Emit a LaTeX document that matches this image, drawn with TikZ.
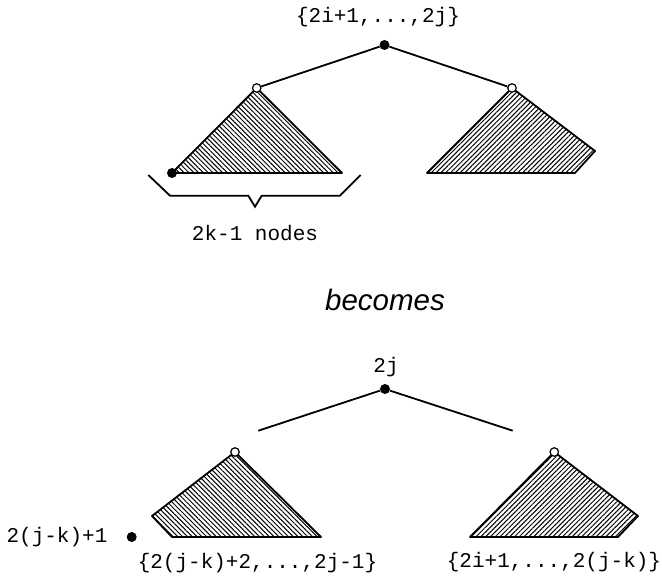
\documentclass[tikz,border=0pt]{standalone}
\usepackage{fontspec}
\setmonofont{Liberation Mono}
\setsansfont{Liberation Sans}
\usetikzlibrary{patterns.meta}

\begin{document}
\begin{tikzpicture}[x=1pt, y=-1pt,
  font=\ttfamily\fontsize{21}{24}\selectfont,
  full/.style={circle, fill=black, inner sep=0pt, minimum size=10pt},
  hollow/.style={circle, draw=black, fill=white, line width=1.2pt,
                 inner sep=0pt, minimum size=8.5pt},
  edge/.style={line width=1.8pt},
  hatchL/.style={draw, line width=1.8pt, line join=round,
                 pattern={Lines[angle=-45, distance=3.4pt, line width=1pt]}},
  hatchR/.style={draw, line width=1.8pt, line join=round,
                 pattern={Lines[angle=45, distance=3.4pt, line width=1pt]}},
]
\useasboundingbox (0,0) rectangle (662,580);

% before
\path[hatchL] (256.7,88) -- (172,173) -- (342,173) -- cycle;
\path[hatchR] (512,88) -- (427,173) -- (575,173) -- (595,151) -- cycle;

\node[full]   (root)  at (384.5,45)  {};
\node[hollow] (left)  at (256.7,88)  {};
\node[hollow] (right) at (512,88)    {};
\node[full]   (leaf)  at (172,173)   {};

\draw[edge] (root) -- (left);
\draw[edge] (root) -- (right);

\node (set) at (378,17) {\{2i+1,...,2j\}};

\draw[edge, line join=miter] (148.3,175) -- (170,195.7) -- (248.3,195.7)
  -- (255,206.7) -- (261.7,195.7) -- (340,195.7) -- (360.7,175);
\node (count) at (255,233) {2k-1 nodes};

\node[font=\sffamily\itshape\fontsize{29.5}{32}\selectfont] (becomes)
  at (385,300) {becomes};

% after
\path[hatchL] (235,452) -- (152,516) -- (172,537) -- (321,537) -- cycle;
\path[hatchR] (554.3,452) -- (470,537) -- (618,537) -- (638,516) -- cycle;

\node[full]   (root2)  at (385,389)    {};
\node[hollow] (left2)  at (235,452)    {};
\node[hollow] (right2) at (554.3,452)  {};
\node[full]   (moved)  at (131.7,537)  {};
\coordinate (endL) at (258.3,430.7);
\coordinate (endR) at (512.7,430.7);

\draw[edge] (root2) -- (endL);
\draw[edge] (root2) -- (endR);

\node (top2)   at (386,367)   {2j};
\node (lbl)    at (57,537)    {2(j-k)+1};
\node (setL)   at (257.5,563) {\{2(j-k)+2,...,2j-1\}};
\node (setR)   at (554,562)   {\{2i+1,...,2(j-k)\}};

\end{tikzpicture}
\end{document}
